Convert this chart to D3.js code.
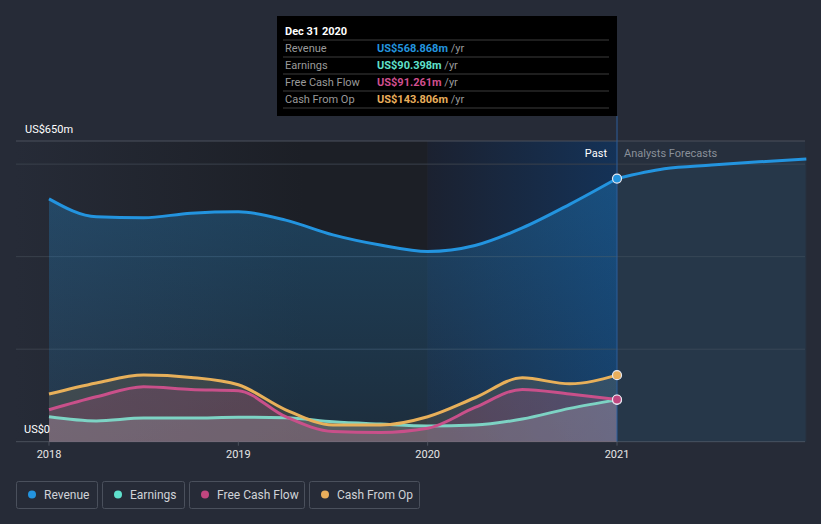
<!DOCTYPE html>
<html>
<head>
<meta charset="utf-8">
<script src="https://d3js.org/d3.v7.min.js"></script>
<style>
  body { margin:0; background:#262b37; }
  svg { display:block; font-family: Roboto, "Open Sans", sans-serif; }
</style>
</head>
<body>
<svg id="chart" width="821" height="524"></svg>
<script>
// quarterly dates (decimal years)
const pastDates = [2018, 2018.25, 2018.5, 2018.75, 2019, 2019.25, 2019.5, 2019.75, 2020, 2020.25, 2020.5, 2020.75, 2021];
const revenue   = [525, 486, 484, 494, 497, 479, 447, 425, 411, 424, 462, 513, 568.868];
const earnings  = [54, 45, 51, 51, 53, 52, 43, 38, 34, 36, 49, 72, 90.398];
const freeCash  = [69, 97, 119, 113, 110, 54, 22, 20, 29, 74, 113, 103, 91.261];
const cashOp    = [103, 127, 144, 139, 123, 69, 36, 36, 54, 95, 138, 125, 143.806];
const forecastDates = [2021, 2021.25, 2021.5, 2021.75, 2022];
const forecastRevenue = [568.868, 590, 598, 605, 611];
const yearTicks = [2018, 2019, 2020, 2021];
const yTicks = [0, 200, 400, 600];

const series = [
  { name: "Revenue", values: revenue, color: "#2394df", dot: "#2394df", fill: "#2394df", fillOp: 0.28, tip: "US$568.868m" },
  { name: "Earnings", values: earnings, color: "#7dd3c4", dot: "#5fe0cc", fill: "#c8ccd6", fillOp: 0.22, tip: "US$90.398m" },
  { name: "Free Cash Flow", values: freeCash, color: "#c9508a", dot: "#c0467f", fill: "#c9508a", fillOp: 0.2, tip: "US$91.261m" },
  { name: "Cash From Op", values: cashOp, color: "#e8b05a", dot: "#e9ae5b", fill: "#e8b05a", fillOp: 0.14, tip: "US$143.806m" }
];
const tipColors = ["#2394df", "#5fe0cc", "#d04f8f", "#e9ae5b"];

const svg = d3.select("#chart");
const plotLeft = 16, plotRight = 805, plotTop = 141, plotBottom = 441.7;

const x = d3.scaleLinear().domain([2018, 2021]).range([49, 617]);
const y = d3.scaleLinear().domain([0, 650]).range([plotBottom, plotTop]);

const defs = svg.append("defs");
const bgGrad = defs.append("linearGradient").attr("id", "bgGrad");
bgGrad.append("stop").attr("offset", "0%").attr("stop-color", "#262b37");
bgGrad.append("stop").attr("offset", "70%").attr("stop-color", "#1c1f26");
bgGrad.append("stop").attr("offset", "100%").attr("stop-color", "#1c1f26");

const hlGrad = defs.append("linearGradient").attr("id", "hlGrad");
hlGrad.append("stop").attr("offset", "0%").attr("stop-color", "#1b2130");
hlGrad.append("stop").attr("offset", "100%").attr("stop-color", "#143257");

const revGrad = defs.append("linearGradient").attr("id", "revGrad").attr("x1", 0).attr("x2", 0).attr("y1", 0).attr("y2", 1);
revGrad.append("stop").attr("offset", "0%").attr("stop-color", "#2394df").attr("stop-opacity", 0.3);
revGrad.append("stop").attr("offset", "100%").attr("stop-color", "#2394df").attr("stop-opacity", 0.12);

// backgrounds
svg.append("rect").attr("x", plotLeft).attr("y", plotTop).attr("width", x(2020) - plotLeft).attr("height", plotBottom - plotTop).attr("fill", "url(#bgGrad)");
svg.append("rect").attr("x", x(2020)).attr("y", plotTop).attr("width", x(2021) - x(2020)).attr("height", plotBottom - plotTop).attr("fill", "url(#hlGrad)");
svg.append("rect").attr("x", x(2021)).attr("y", plotTop).attr("width", plotRight - x(2021)).attr("height", plotBottom - plotTop).attr("fill", "#262f3d");

// gridlines
yTicks.concat([650]).forEach(v => {
  svg.append("line").attr("x1", plotLeft).attr("x2", plotRight).attr("y1", y(v)).attr("y2", y(v))
    .attr("stroke", v === 0 || v === 650 ? "#4a505c" : "#3a404c").attr("stroke-width", 1);
});

const curve = d3.curveMonotoneX;
const area = d3.area().x(d => x(d[0])).y0(y(0)).y1(d => y(d[1])).curve(curve);
const line = d3.line().x(d => x(d[0])).y(d => y(d[1])).curve(curve);

// forecast revenue
const fc = forecastDates.map((d, i) => [d, forecastRevenue[i]]);
svg.append("path").attr("d", area(fc)).attr("fill", "#2394df").attr("fill-opacity", 0.08);

// areas (earnings drawn last so its fill stays grey)
[0, 3, 2, 1].forEach(k => {
  const s = series[k];
  const pts = pastDates.map((d, i) => [d, s.values[i]]);
  svg.append("path").attr("d", area(pts))
    .attr("fill", k === 0 ? "url(#revGrad)" : s.fill)
    .attr("fill-opacity", k === 0 ? 1 : s.fillOp);
});
// lines
[1, 2, 3, 0].forEach(k => {
  const s = series[k];
  const pts = pastDates.map((d, i) => [d, s.values[i]]);
  svg.append("path").attr("d", line(pts)).attr("fill", "none")
    .attr("stroke", s.color).attr("stroke-width", 3);
});
svg.append("path").attr("d", line(fc)).attr("fill", "none").attr("stroke", "#2394df").attr("stroke-width", 3);

// vertical marker line
svg.append("line").attr("x1", x(2021)).attr("x2", x(2021)).attr("y1", 116).attr("y2", plotBottom)
  .attr("stroke", "#2d5f9c").attr("stroke-width", 1);

// end points
[3, 1, 2, 0].forEach(k => {
  const s = series[k];
  svg.append("circle").attr("cx", x(2021)).attr("cy", y(s.values[s.values.length - 1])).attr("r", 4.5)
    .attr("fill", s.dot).attr("stroke", "#e8e8f0").attr("stroke-width", 1.2);
});

// axis labels
svg.append("text").attr("x", 25).attr("y", 133).attr("fill", "#ffffff").attr("font-size", 11).text("US$650m");
svg.append("text").attr("x", 24).attr("y", 433).attr("fill", "#ffffff").attr("font-size", 11).text("US$0");
yearTicks.forEach(t => {
  svg.append("line").attr("x1", x(t)).attr("x2", x(t)).attr("y1", plotBottom).attr("y2", plotBottom + 4).attr("stroke", "#4a505c");
  svg.append("text").attr("x", x(t)).attr("y", 458).attr("text-anchor", "middle")
    .attr("fill", "#e6e6e6").attr("font-size", 11).text(t);
});

svg.append("text").attr("x", 607).attr("y", 157).attr("text-anchor", "end").attr("fill", "#ffffff").attr("font-size", 11).text("Past");
svg.append("text").attr("x", 624).attr("y", 157).attr("fill", "#8a8f99").attr("font-size", 11).text("Analysts Forecasts");

// tooltip
const tip = svg.append("g");
tip.append("rect").attr("x", 277).attr("y", 16).attr("width", 340).attr("height", 100).attr("fill", "#000000");
tip.append("text").attr("x", 285).attr("y", 35).attr("fill", "#ffffff").attr("font-size", 11).attr("font-weight", "bold").text("Dec 31 2020");
series.forEach((s, i) => {
  const ry = 40 + i * 17;
  tip.append("line").attr("x1", 283).attr("x2", 609).attr("y1", ry).attr("y2", ry).attr("stroke", "#3c3c3c");
  tip.append("text").attr("x", 285).attr("y", ry + 12).attr("fill", "#9a9a9a").attr("font-size", 11).text(s.name);
  const t = tip.append("text").attr("x", 377).attr("y", ry + 12).attr("font-size", 11);
  t.append("tspan").attr("fill", tipColors[i]).attr("font-weight", "bold").text(s.tip);
  t.append("tspan").attr("fill", "#9a9a9a").text(" /yr");
});
tip.append("line").attr("x1", 283).attr("x2", 609).attr("y1", 108).attr("y2", 108).attr("stroke", "#3c3c3c");

// legend
const legendX = [16, 102, 189, 309];
const legendW = [81, 82, 115, 110];
series.forEach((s, i) => {
  const g = svg.append("g").attr("transform", `translate(${legendX[i]},481)`);
  g.append("rect").attr("x", 0.5).attr("y", 0.5).attr("width", legendW[i]).attr("height", 27).attr("rx", 2)
    .attr("fill", "none").attr("stroke", "#4a505c");
  g.append("circle").attr("cx", 16).attr("cy", 13.5).attr("r", 4).attr("fill", s.dot);
  g.append("text").attr("x", 28).attr("y", 18).attr("fill", "#d0d3d8").attr("font-size", 12).text(s.name);
});
</script>
</body>
</html>
